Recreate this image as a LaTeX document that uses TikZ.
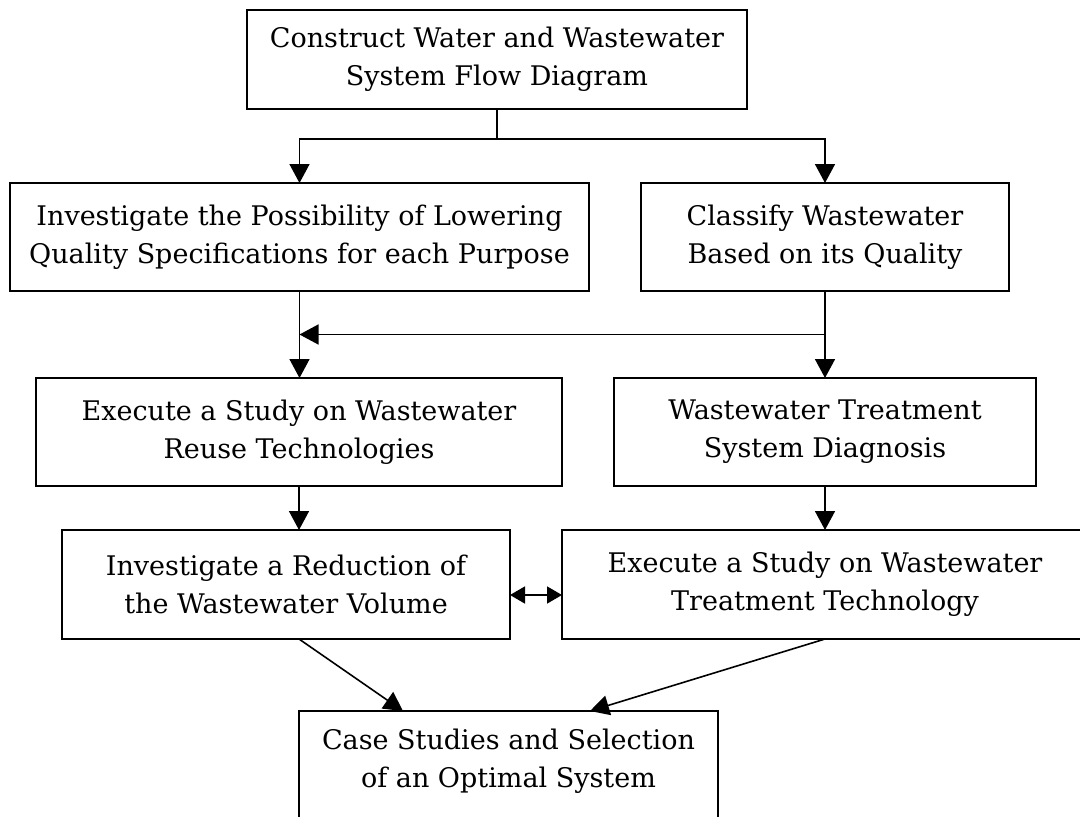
\documentclass[tikz,border=0pt]{standalone}
\usepackage{fontspec}
\setmainfont{DejaVu Serif}
\usetikzlibrary{arrows.meta,calc}

\tikzset{
  stagebox/.style={draw, line width=1.7pt, inner sep=0pt, outer sep=0pt,
    align=center, font=\fontsize{27}{38}\selectfont},
  flow/.style={line width=1.6pt, -{Triangle[length=19pt,width=20pt]}},
  twoway/.style={line width=1.6pt, {Triangle[length=15pt,width=17pt]}-{Triangle[length=15pt,width=17pt]}},
  plain/.style={line width=1.6pt}
}

\begin{document}
\begin{tikzpicture}[x=1pt,y=-1pt]
  \useasboundingbox (0,0) rectangle (1080,817);
  \clip (0,0) rectangle (1080,817);
  \fill[white] (0,0) rectangle (1080,817);

  % process stages
  \node[stagebox, minimum width=500pt, minimum height=99pt] (top) at (497,59.5)
    {Construct Water and Wastewater\\System Flow Diagram};
  \node[stagebox, minimum width=579pt, minimum height=108pt] (inv) at (299.5,237)
    {Investigate the Possibility of Lowering\\Quality Specifications for each Purpose};
  \node[stagebox, minimum width=368pt, minimum height=108pt] (cls) at (825,237)
    {Classify Wastewater\\Based on its Quality};
  \node[stagebox, minimum width=526pt, minimum height=108pt] (reuse) at (299,432)
    {Execute a Study on Wastewater\\Reuse Technologies};
  \node[stagebox, minimum width=422pt, minimum height=108pt] (diag) at (825,432)
    {Wastewater Treatment\\System Diagnosis};
  \node[stagebox, minimum width=448pt, minimum height=109pt] (red) at (286,584.5)
    {Investigate a Reduction of\\the Wastewater Volume};
  \node[stagebox, minimum width=526pt, minimum height=109pt] (tech) at (825,584.5)
    {Execute a Study on Wastewater\\Treatment Technology};
  \node[stagebox, minimum width=419pt, minimum height=109pt, text depth=14pt] (case) at (508.5,765.5)
    {Case Studies and Selection\\of an Optimal System};

  % split below the first stage
  \coordinate (split) at ($(top.south)+(0,30)$);
  \draw[plain] (top.south) -- (split);
  \draw[flow] (split) -| (inv.north);
  \draw[flow] (split) -| (cls.north);

  % second to third row
  \coordinate (merge) at ($(cls.south)!0.5!(diag.north)$);
  \draw[flow] (inv.south) -- (inv.south |- reuse.north);
  \draw[flow] (cls.south) -- (diag.north);
  \draw[flow] (merge) -- (merge -| inv.south);

  % third to fourth row
  \draw[flow] (reuse.south) -- (reuse.south |- red.north);
  \draw[flow] (diag.south) -- (tech.north);
  \draw[twoway] ([yshift=-10.5pt]red.east) -- ([yshift=-10.5pt]tech.west);

  % into the final stage
  \draw[flow] ([xshift=13pt]red.south) -- ([xshift=-105.5pt]case.north);
  \draw[flow] (tech.south) -- ([xshift=81.5pt]case.north);
\end{tikzpicture}
\end{document}
